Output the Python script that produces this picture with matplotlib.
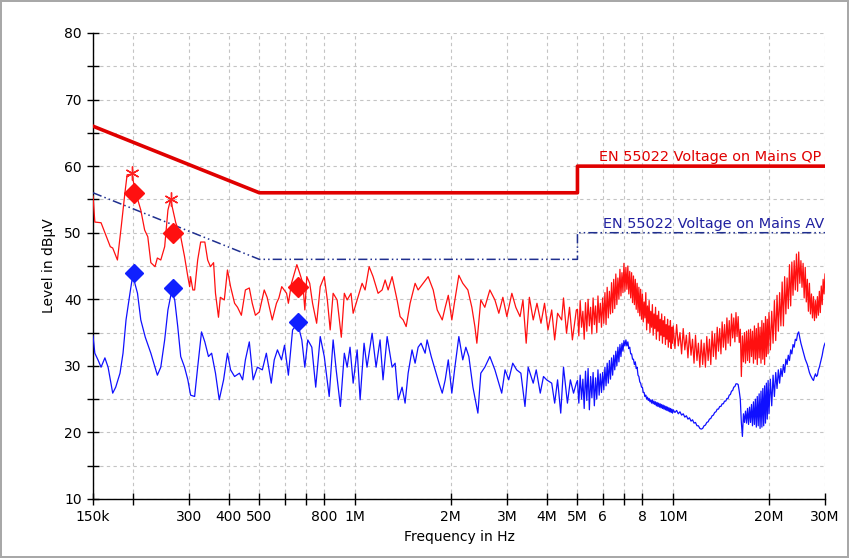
import matplotlib
matplotlib.use('Agg')
import matplotlib.pyplot as plt
from matplotlib.ticker import NullLocator, MultipleLocator

# EN 55022 mains limits (MHz, dBuV)
qp_limit_mhz = [0.15, 0.5, 5.0, 5.0, 30.0]
qp_limit_db = [66, 56, 56, 60, 60]
av_limit_mhz = [0.15, 0.5, 5.0, 5.0, 30.0]
av_limit_db = [56, 46, 46, 50, 50]

# peak trace, 150 kHz .. 5 MHz
red_lf_mhz = [0.150, 0.152, 0.159, 0.170, 0.173, 0.179, 0.184, 0.189, 0.192, 0.199,
              0.203, 0.212, 0.218, 0.223, 0.228, 0.235, 0.239, 0.245, 0.252, 0.258,
              0.263, 0.273, 0.283, 0.291, 0.298, 0.302, 0.304, 0.309, 0.313, 0.320,
              0.327, 0.337, 0.344, 0.351, 0.359, 0.364, 0.372, 0.377, 0.388, 0.397,
              0.406, 0.418, 0.427, 0.439, 0.452, 0.465, 0.475, 0.486, 0.500, 0.518,
              0.529, 0.549, 0.566, 0.576, 0.588, 0.609, 0.617, 0.631, 0.656, 0.670,
              0.685, 0.695, 0.705, 0.720, 0.735, 0.757, 0.777, 0.800, 0.818, 0.835,
              0.853, 0.878, 0.905, 0.925, 0.944, 0.971, 0.986, 1.015, 1.052, 1.075,
              1.107, 1.139, 1.181, 1.216, 1.243, 1.270, 1.307, 1.355, 1.385, 1.416,
              1.447, 1.489, 1.544, 1.578, 1.636, 1.697, 1.760, 1.812, 1.879, 1.920,
              1.963, 2.014, 2.059, 2.119, 2.180, 2.262, 2.328, 2.380, 2.414, 2.484,
              2.557, 2.652, 2.751, 2.830, 2.914, 3.00, 3.11, 3.20, 3.30, 3.37,
              3.45, 3.53, 3.63, 3.73, 3.84, 3.94, 4.04, 4.15, 4.24, 4.33,
              4.46, 4.52, 4.62, 4.72, 4.82, 4.96]
red_lf_db = [55.5, 51.6, 51.5, 47.9, 47.7, 45.9, 50.9, 56.0, 58.7, 58.8,
             56.5, 53.4, 50.4, 49.4, 45.5, 44.9, 46.2, 45.9, 47.9, 53.4,
             55.0, 51.5, 49.4, 46.4, 43.4, 41.9, 43.4, 41.4, 41.4, 45.9,
             48.6, 48.6, 45.9, 44.9, 45.5, 40.9, 37.3, 40.3, 39.9, 44.4,
             41.9, 39.4, 38.8, 37.6, 41.4, 41.7, 39.4, 37.6, 38.1, 41.4,
             40.3, 36.9, 39.4, 40.2, 41.9, 40.9, 39.4, 42.4, 45.2, 43.9,
             42.4, 38.4, 43.4, 42.4, 39.4, 36.4, 41.9, 43.4, 39.9, 35.4,
             40.9, 39.9, 34.3, 40.9, 39.9, 40.9, 37.9, 39.9, 42.4, 41.4,
             44.9, 43.4, 40.9, 41.4, 42.9, 41.4, 43.4, 39.9, 37.4, 36.9,
             35.9, 39.4, 42.4, 41.4, 42.4, 43.4, 41.4, 38.4, 36.9, 38.8,
             40.6, 36.9, 39.9, 43.6, 42.4, 41.4, 38.8, 35.9, 33.4, 39.9,
             38.8, 41.4, 39.9, 37.9, 40.3, 37.4, 40.9, 38.8, 37.4, 39.9,
             33.4, 40.3, 36.9, 39.4, 36.4, 39.4, 35.4, 38.4, 33.9, 37.9,
             36.9, 40.2, 34.9, 38.8, 33.9, 38.4]

# average trace, 150 kHz .. 5 MHz
blue_lf_mhz = [0.150, 0.152, 0.1555, 0.159, 0.1635, 0.1673, 0.173, 0.1768, 0.1824, 0.1864,
               0.1905, 0.196, 0.200, 0.207, 0.212, 0.219, 0.228, 0.235, 0.239, 0.245,
               0.252, 0.258, 0.265, 0.271, 0.277, 0.283, 0.291, 0.298, 0.304, 0.313,
               0.320, 0.329, 0.337, 0.346, 0.354, 0.364, 0.374, 0.386, 0.397, 0.406,
               0.418, 0.433, 0.443, 0.452, 0.465, 0.478, 0.493, 0.511, 0.526, 0.545,
               0.557, 0.570, 0.587, 0.600, 0.617, 0.636, 0.660, 0.680, 0.695, 0.710,
               0.731, 0.752, 0.777, 0.800, 0.829, 0.853, 0.872, 0.899, 0.925, 0.944,
               0.964, 0.986, 1.015, 1.037, 1.067, 1.090, 1.131, 1.164, 1.198, 1.224,
               1.261, 1.307, 1.336, 1.366, 1.405, 1.436, 1.468, 1.510, 1.544, 1.578,
               1.612, 1.660, 1.684, 1.735, 1.797, 1.836, 1.879, 1.920, 1.963, 2.014,
               2.059, 2.119, 2.180, 2.229, 2.278, 2.346, 2.432, 2.484, 2.557, 2.652,
               2.751, 2.81, 2.89, 2.96, 3.04, 3.13, 3.22, 3.32, 3.42, 3.50,
               3.63, 3.71, 3.82, 3.91, 4.00, 4.15, 4.24, 4.33, 4.43, 4.52,
               4.65, 4.75, 4.86, 4.96]
blue_lf_db = [34.5, 31.9, 30.9, 29.8, 31.2, 29.8, 25.9, 26.8, 28.9, 31.9,
              36.9, 40.9, 43.6, 40.9, 36.9, 34.3, 31.9, 29.8, 28.6, 29.8,
              33.9, 38.4, 41.2, 39.9, 35.9, 31.4, 29.8, 27.9, 25.6, 25.4,
              29.8, 35.1, 33.6, 31.4, 31.9, 28.9, 24.9, 27.9, 31.9, 29.4,
              28.4, 28.9, 27.9, 30.9, 33.6, 27.9, 29.8, 29.4, 31.9, 27.4,
              30.9, 32.4, 30.9, 33.1, 28.6, 35.4, 36.4, 33.9, 29.8, 33.9,
              32.8, 26.8, 34.4, 31.4, 25.4, 33.9, 29.4, 23.9, 31.9, 29.8,
              32.8, 27.4, 32.4, 24.9, 33.4, 29.8, 34.9, 29.8, 33.9, 27.9,
              34.4, 29.8, 30.4, 24.9, 26.8, 24.4, 28.9, 32.4, 30.4, 32.8,
              33.4, 31.9, 33.9, 31.4, 28.9, 27.4, 25.9, 27.9, 30.9, 25.9,
              29.8, 34.4, 30.9, 32.8, 31.4, 26.8, 22.9, 28.9, 29.8, 31.4,
              29.4, 27.9, 25.9, 29.4, 27.9, 30.4, 29.4, 28.9, 23.9, 29.8,
              27.4, 29.4, 25.9, 28.4, 27.9, 27.4, 24.4, 27.9, 22.9, 29.8,
              24.4, 27.9, 25.9, 27.4]

# 5 MHz .. 30 MHz, both detectors on the same sweep points
hf_mhz = [5.00, 5.05, 5.10, 5.15, 5.20, 5.25, 5.30, 5.35, 5.40, 5.45,
          5.50, 5.55, 5.60, 5.65, 5.70, 5.75, 5.80, 5.85, 5.90, 5.95,
          6.00, 6.05, 6.10, 6.15, 6.20, 6.25, 6.30, 6.35, 6.40, 6.45,
          6.50, 6.55, 6.60, 6.65, 6.70, 6.75, 6.80, 6.85, 6.90, 6.95,
          7.00, 7.05, 7.10, 7.15, 7.20, 7.25, 7.30, 7.35, 7.40, 7.45,
          7.50, 7.55, 7.60, 7.65, 7.70, 7.75, 7.80, 7.85, 7.90, 7.95,
          8.00, 8.05, 8.10, 8.15, 8.20, 8.25, 8.30, 8.35, 8.40, 8.45,
          8.50, 8.55, 8.60, 8.65, 8.70, 8.75, 8.80, 8.85, 8.90, 8.95,
          9.00, 9.05, 9.10, 9.15, 9.20, 9.25, 9.30, 9.35, 9.40, 9.45,
          9.50, 9.55, 9.60, 9.65, 9.70, 9.75, 9.80, 9.85, 9.90, 9.95,
          10.0,
          10.125, 10.25, 10.375, 10.5, 10.625, 10.75, 10.875, 11.0, 11.125, 11.25,
          11.375, 11.5, 11.625, 11.75, 11.875, 12.0, 12.125, 12.25, 12.375, 12.5,
          12.625, 12.75, 12.875, 13.0, 13.125, 13.25, 13.375, 13.5, 13.625, 13.75,
          13.875, 14.0, 14.125, 14.25, 14.375, 14.5, 14.625, 14.75, 14.875, 15.0,
          15.125, 15.25, 15.375, 15.5, 15.625, 15.75, 15.875, 16.0, 16.125, 16.25,
          16.375, 16.5, 16.625, 16.75, 16.875, 17.0, 17.125, 17.25, 17.375, 17.5,
          17.625, 17.75, 17.875, 18.0, 18.125, 18.25, 18.375, 18.5, 18.625, 18.75,
          18.875, 19.0, 19.125, 19.25, 19.375, 19.5, 19.625, 19.75, 19.875, 20.0,
          20.2, 20.4, 20.6, 20.8, 21.0, 21.2, 21.4, 21.6, 21.8, 22.0,
          22.2, 22.4, 22.6, 22.8, 23.0, 23.2, 23.4, 23.6, 23.8, 24.0,
          24.2, 24.4, 24.6, 24.8, 25.0, 25.2, 25.4, 25.6, 25.8, 26.0,
          26.2, 26.4, 26.6, 26.8, 27.0, 27.2, 27.4, 27.6, 27.8, 28.0,
          28.2, 28.4, 28.6, 28.8, 29.0, 29.2, 29.4, 29.6, 29.8, 30.0]
red_hf_db = [38.5, 34.5, 39.8, 35.8, 38.2, 34.0, 39.5, 35.2, 40.0, 36.0,
             38.8, 34.8, 40.2, 36.2, 39.0, 35.0, 40.5, 36.5, 39.4, 35.8,
             40.2, 36.4, 41.0, 36.2, 41.8, 37.2, 41.2, 37.8, 42.5, 38.0,
             43.0, 38.6, 43.8, 39.2, 43.2, 40.0, 44.5, 40.5, 44.0, 41.0,
             45.4, 41.2, 44.8, 41.5, 45.0, 40.8, 44.2, 40.2, 44.0, 39.5,
             43.5, 39.2, 43.0, 38.5, 42.4, 38.0, 41.8, 37.5, 41.5, 37.0,
             40.8, 36.6, 39.6, 37.2, 41.0, 35.4, 39.0, 36.4, 39.8, 35.0,
             38.2, 35.8, 39.2, 34.6, 37.8, 35.6, 38.8, 34.0, 37.6, 35.2,
             38.2, 33.8, 37.0, 34.6, 37.8, 33.4, 36.8, 34.4, 37.4, 33.2,
             36.2, 34.0, 37.0, 32.8, 36.0, 33.6, 36.8, 32.6, 35.8, 33.4,
             36.0,
             32.6, 36.2, 33.0, 35.0, 31.8, 35.6, 32.4, 34.6, 31.2, 35.0,
             31.6, 34.0, 30.4, 34.6, 30.8, 33.4, 29.8, 33.9, 30.2, 33.4,
             29.8, 34.4, 30.8, 34.0, 30.2, 35.2, 31.4, 34.8, 31.0, 35.8,
             32.2, 35.6, 31.8, 36.6, 32.8, 36.2, 32.4, 37.2, 33.4, 36.8,
             33.0, 37.8, 34.2, 37.2, 33.6, 38.0, 34.4, 37.4, 33.5, 35.5,
             28.4, 34.5, 30.6, 35.0, 30.4, 35.2, 30.8, 35.4, 30.5, 35.5,
             31.4, 35.2, 30.4, 36.0, 31.0, 35.6, 30.2, 36.4, 31.2, 35.8,
             30.4, 36.8, 31.0, 36.4, 30.2, 37.4, 31.4, 37.0, 31.8, 38.0,
             32.4, 38.2, 33.4, 39.8, 33.8, 40.6, 35.2, 41.0, 36.0, 42.6,
             36.0, 43.4, 37.8, 43.2, 38.6, 45.2, 39.0, 45.6, 40.6, 45.8,
             41.4, 46.8, 41.2, 47.1, 42.4, 45.8, 41.8, 45.4, 40.2, 44.8,
             39.6, 43.0, 38.2, 42.4, 37.8, 40.8, 37.2, 40.4, 36.8, 39.8,
             37.2, 40.4, 37.6, 41.2, 38.0, 42.0, 39.2, 43.0, 40.8, 43.8]
blue_hf_db = [27.8, 24.4, 28.6, 25.0, 28.0, 23.6, 29.2, 24.8, 29.6, 23.4,
              28.4, 25.2, 29.0, 24.0, 28.2, 25.0, 29.4, 25.6, 28.8, 26.0,
              29.0, 26.4, 29.8, 27.0, 30.4, 27.4, 30.8, 28.0, 31.2, 28.6,
              31.6, 29.4, 32.2, 30.0, 32.8, 30.6, 33.2, 31.4, 33.4, 32.2,
              33.8, 33.0, 33.9, 33.0, 33.6, 32.6, 32.8, 31.8, 31.8, 31.0,
              31.0, 30.2, 30.6, 29.6, 29.8, 28.6, 28.4, 27.6, 27.4, 26.8,
              26.8, 26.0, 26.0, 25.4, 25.6, 25.0, 25.3, 24.8, 25.1, 24.6,
              24.9, 24.4, 24.9, 24.3, 24.7, 24.2, 24.6, 24.0, 24.5, 23.9,
              24.4, 23.8, 24.3, 23.7, 24.2, 23.6, 24.1, 23.5, 24.0, 23.4,
              23.9, 23.3, 23.8, 23.2, 23.7, 23.1, 23.6, 23.0, 23.5, 22.9,
              23.4,
              23.0, 23.3, 22.8, 23.1, 22.6, 22.8, 22.3, 22.5, 22.0, 22.2,
              21.7, 21.9, 21.4, 21.5, 21.0, 21.0, 20.6, 20.5, 20.6, 21.0,
              21.1, 21.5, 21.6, 22.0, 22.1, 22.5, 22.6, 23.0, 23.1, 23.5,
              23.5, 23.9, 23.9, 24.3, 24.3, 24.7, 24.7, 25.1, 25.1, 25.6,
              25.7, 26.2, 26.3, 26.8, 26.9, 27.3, 27.3, 27.2, 26.2, 25.0,
              21.5, 19.4, 22.8, 21.5, 23.2, 21.4, 23.6, 21.2, 23.8, 21.5,
              24.2, 21.0, 24.6, 21.2, 25.0, 20.8, 25.4, 21.0, 25.8, 20.6,
              26.2, 20.8, 26.6, 21.0, 27.0, 21.4, 27.4, 22.0, 27.8, 22.8,
              28.0, 24.0, 28.6, 25.4, 29.0, 26.6, 29.4, 27.4, 29.6, 28.4,
              30.2, 29.0, 31.0, 30.2, 31.6, 30.8, 32.4, 31.8, 33.2, 32.8,
              34.0, 33.8, 34.8, 35.1, 34.2, 33.4, 32.8, 32.2, 31.6, 31.0,
              30.6, 30.2, 29.6, 29.0, 28.6, 28.3, 28.0, 27.8, 28.4, 28.8,
              28.4, 28.6, 29.4, 29.8, 30.4, 31.0, 31.6, 32.4, 33.0, 33.4]

# final measurement markers
qp_peak_mhz = [0.1986, 0.264]
qp_peak_db = [58.9, 55.1]
qp_final_mhz = [0.2025, 0.267, 0.660]
qp_final_db = [56.0, 50.0, 41.8]
av_final_mhz = [0.2015, 0.267, 0.660]
av_final_db = [43.9, 41.7, 36.6]

x_ticks = [0.15, 0.2, 0.3, 0.4, 0.5, 0.6, 0.7, 0.8, 1, 2, 3, 4, 5, 6, 7, 8, 10, 20, 30]
x_labels = ['150k', '', '300', '400', '500', '', '', '800', '1M', '2M', '3M', '4M',
            '5M', '6', '', '8', '10M', '20M', '30M']

plt.rcParams['font.family'] = 'DejaVu Sans'

fig = plt.figure(figsize=(8.49, 5.58), dpi=100)
fig.patch.set_facecolor('white')
fig.patch.set_edgecolor('#a8a8a8')
fig.patch.set_linewidth(1.5)
ax = fig.add_axes([93 / 849, 1 - 499 / 558, 732 / 849, 466 / 558])

mhz = 1e6
red_f = [f * mhz for f in red_lf_mhz + hf_mhz]
red_v = red_lf_db + red_hf_db
blue_f = [f * mhz for f in blue_lf_mhz + hf_mhz]
blue_v = blue_lf_db + blue_hf_db

ax.plot([f * mhz for f in qp_limit_mhz], qp_limit_db, color='#e00000', lw=2.6, zorder=3)
ax.plot([f * mhz for f in av_limit_mhz], av_limit_db, color='#1f2f8f', lw=1.1,
        ls=(0, (6, 2, 1, 2, 1, 2)), zorder=3)

ax.plot(red_f, red_v, color='#ff1010', lw=0.9, zorder=4)
ax.plot(blue_f, blue_v, color='#1010ff', lw=0.9, zorder=4)

# QP peak stars and final QP / AV readings
ax.plot([f * mhz for f in qp_peak_mhz], qp_peak_db, ls='none', marker=(6, 2, 0),
        ms=10, mew=1.0, color='#ff2020', zorder=5)
ax.plot([f * mhz for f in qp_final_mhz], qp_final_db, ls='none', marker='D',
        ms=10, color='#ff1010', zorder=5)
ax.plot([f * mhz for f in av_final_mhz], av_final_db, ls='none', marker='D',
        ms=9.5, color='#1020ff', zorder=5)

ax.text(5.85 * mhz, 60.7, 'EN 55022 Voltage on Mains QP', color='#e00000',
        fontsize=10.4, va='baseline', ha='left')
ax.text(6.0 * mhz, 50.7, 'EN 55022 Voltage on Mains AV', color='#2020a0',
        fontsize=10.4, va='baseline', ha='left')

ax.set_xscale('log')
ax.set_xlim(0.15 * mhz, 30 * mhz)
ax.set_ylim(10, 80)
ax.set_xticks([t * mhz for t in x_ticks])
ax.set_xticklabels(x_labels)
ax.xaxis.set_minor_locator(NullLocator())
ax.yaxis.set_major_locator(MultipleLocator(10))
ax.yaxis.set_minor_locator(MultipleLocator(5))

ax.grid(True, which='both', color='#c4c4c4', ls=(0, (3, 3)), lw=0.8)
ax.set_axisbelow(True)
for side in ['top', 'right']:
    ax.spines[side].set_visible(False)
for side in ['left', 'bottom']:
    ax.spines[side].set_color('black')
    ax.spines[side].set_linewidth(1.0)
ax.tick_params(axis='both', which='both', direction='inout', length=8, width=1,
               colors='black', labelsize=10)
ax.tick_params(axis='x', pad=4)
ax.tick_params(axis='y', pad=4)

ax.set_xlabel('Frequency in Hz', fontsize=10, labelpad=4)
ax.set_ylabel('Level in dBµV', fontsize=10, labelpad=6)

fig.savefig('out.png', dpi=100, facecolor='white', edgecolor='#a8a8a8')
